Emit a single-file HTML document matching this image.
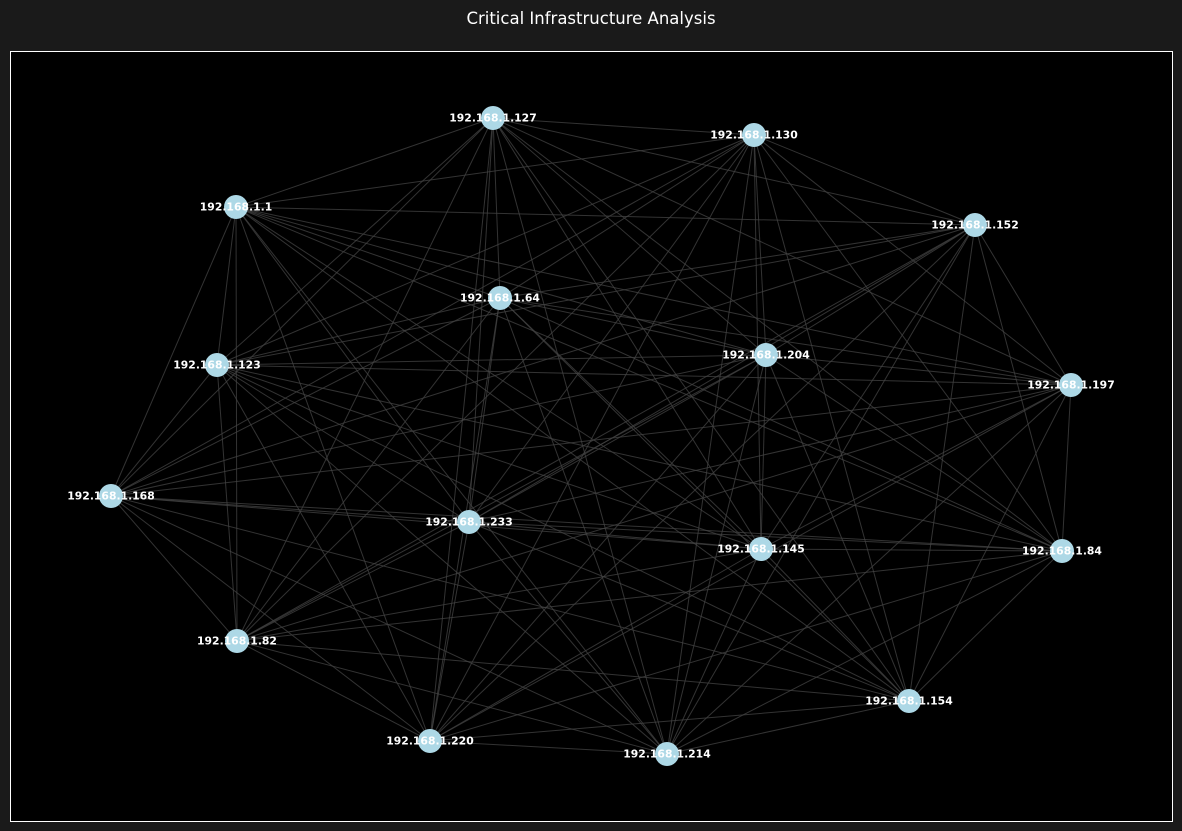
<!DOCTYPE html>
<html><head><meta charset="utf-8"><style>
body{margin:0;background:#1a1a1a;width:1182px;height:831px;overflow:hidden}
svg{display:block}
</style></head><body>
<svg id="chart" width="1182" height="831">
<rect width="1182" height="831" fill="#1a1a1a"/>
<text x="591" y="24" fill="#fff" font-family="DejaVu Sans, sans-serif" font-size="16.5" text-anchor="middle">Critical Infrastructure Analysis</text>
<rect x="10.5" y="51.5" width="1162" height="770" fill="#000" stroke="#fff" stroke-width="1"/>
<g id="edges"></g><g id="nodes"></g>
</svg>
<script>
const nodeLabels=["192.168.1.127","192.168.1.130","192.168.1.1","192.168.1.152","192.168.1.64","192.168.1.204","192.168.1.123","192.168.1.197","192.168.1.168","192.168.1.233","192.168.1.145","192.168.1.84","192.168.1.82","192.168.1.154","192.168.1.220","192.168.1.214"];
const nodeX=[493,754,236,975,500,766,217,1071,111,469,761,1062,237,909,430,667];
const nodeY=[118,135,207,225,298,355,365,385,496,522,549,551,641,701,741,754];
const NS="http://www.w3.org/2000/svg";
const eg=document.getElementById('edges'),ng=document.getElementById('nodes');
for(let i=0;i<nodeLabels.length;i++)for(let j=i+1;j<nodeLabels.length;j++){
 const l=document.createElementNS(NS,'line');
 l.setAttribute('x1',nodeX[i]);l.setAttribute('y1',nodeY[i]);l.setAttribute('x2',nodeX[j]);l.setAttribute('y2',nodeY[j]);
 l.setAttribute('stroke','#444');l.setAttribute('stroke-opacity','0.75');l.setAttribute('stroke-width','1');
 
 
 eg.appendChild(l);
}
nodeLabels.forEach((lab,i)=>{
 const c=document.createElementNS(NS,'circle');
 c.setAttribute('cx',nodeX[i]);c.setAttribute('cy',nodeY[i]);c.setAttribute('r',12);c.setAttribute('fill','#add8e6');
 
 
 ng.appendChild(c);
 const t=document.createElementNS(NS,'text');
 t.setAttribute('x',nodeX[i]);t.setAttribute('y',nodeY[i]+3.5);t.setAttribute('fill','#fff');
 t.setAttribute('font-family','DejaVu Sans, sans-serif');t.setAttribute('font-size','10.8');t.setAttribute('font-weight','bold');t.setAttribute('text-anchor','middle');
 t.textContent=lab;
 
 
 ng.appendChild(t);
});
</script>
</body></html>
